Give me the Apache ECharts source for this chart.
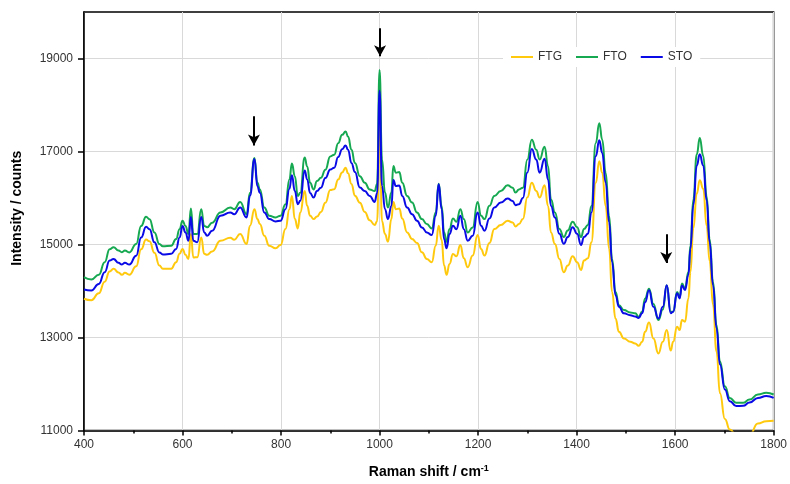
<!DOCTYPE html>
<html>
<head>
<meta charset="utf-8">
<script src="https://cdn.jsdelivr.net/npm/echarts@6/dist/echarts.min.js"></script>
<style>
  html, body { margin: 0; padding: 0; background: #fff; }
  #main { width: 790px; height: 484px; }
</style>
</head>
<body>
<div id="main"></div>
<script>
// Raman shift positions (cm-1) shared by the three spectra
var shift = [400, 415, 430, 442, 452, 460, 470, 477, 483, 492, 506, 516, 526, 533, 543, 553, 560, 577, 587, 594,
  600, 606, 612, 617, 622, 630, 638, 644, 650, 660, 677, 697, 705, 717, 730, 737, 746, 752, 757, 766,
  776, 789, 799, 809, 817, 822, 828, 834, 839, 848, 853, 859, 866, 873, 881, 890, 900, 908, 916, 924,
  931, 936, 943, 950, 960, 970, 980, 990, 995, 1000, 1005, 1011, 1017, 1024, 1028, 1033, 1040, 1046, 1056, 1066,
  1076, 1086, 1096, 1106, 1114, 1120, 1126, 1131, 1136, 1142, 1149, 1156, 1164, 1171, 1179, 1189, 1199, 1206, 1213, 1223,
  1233, 1246, 1260, 1270, 1276, 1283, 1291, 1300, 1309, 1318, 1325, 1335, 1342, 1348, 1356, 1365, 1374, 1382, 1392, 1401,
  1409, 1415, 1423, 1430, 1439, 1446, 1452, 1459, 1466, 1472, 1479, 1486, 1496, 1509, 1519, 1526, 1533, 1539, 1547, 1556,
  1566, 1575, 1583, 1591, 1596, 1604, 1609, 1614, 1620, 1627, 1631, 1637, 1644, 1650, 1657, 1664, 1670, 1677, 1684, 1691,
  1701, 1711, 1724, 1738, 1751, 1768, 1785, 1800];

var ftg = [13833, 13800, 13950, 14200, 14420, 14478, 14400, 14350, 14390, 14350, 14530, 14900, 15105, 15070, 14820, 14550, 14478, 14480, 14620, 14800,
  14905, 14780, 14690, 15225, 14720, 14727, 15153, 14800, 14777, 14850, 15080, 15145, 15104, 15225, 15011, 15403, 15760, 15546, 15439, 15190,
  14975, 14918, 14989, 15332, 15760, 16045, 15546, 15346, 15688, 16152, 15831, 15620, 15546, 15600, 15700, 15900, 16170, 16190, 16400, 16550,
  16650, 16530, 16300, 16050, 15900, 15700, 15520, 15420, 15500, 17700, 15500, 15225, 15061, 15546, 15916, 15760, 15774, 15560, 15260, 15118,
  15032, 14833, 14690, 14619, 14975, 15403, 15100, 14547, 14348, 14583, 14797, 14747, 14989, 14704, 14512, 14761, 15203, 14904, 14761, 15032,
  15332, 15417, 15510, 15474, 15389, 15439, 15550, 16015, 16330, 16152, 16010, 16273, 15830, 15260, 15010, 14690, 14404, 14547, 14747, 14620,
  14454, 14654, 14704, 15046, 16330, 16793, 16543, 15830, 14904, 13977, 13406, 13121, 12978, 12907, 12871, 12822, 12907, 13121, 13320, 12978,
  12658, 12907, 13160, 12720, 12910, 13230, 13160, 13375, 13340, 13840, 14400, 15350, 16100, 16380, 16200, 15400, 14650, 13700, 12700, 11800,
  11250, 11020, 10900, 10800, 10900, 11150, 11200, 11210];

var fto = [14300, 14250, 14350, 14620, 14900, 14940, 14870, 14835, 14870, 14830, 15010, 15400, 15595, 15545, 15260, 15010, 14960, 14975, 15117, 15330,
  15510, 15400, 15225, 15775, 15225, 15225, 15760, 15400, 15370, 15470, 15690, 15795, 15760, 15915, 15653, 16115, 16860, 16327, 16185, 15795,
  15618, 15582, 15620, 15866, 16400, 16742, 16470, 16044, 16115, 16870, 16680, 16327, 16185, 16363, 16434, 16610, 16895, 16930, 17180, 17358,
  17430, 17322, 17037, 16752, 16470, 16327, 16185, 16150, 16300, 18755, 16830, 16116, 15795, 16116, 16686, 16544, 16558, 16330, 16045, 15902,
  15688, 15546, 15439, 15346, 15688, 16308, 15831, 15260, 15061, 15332, 15560, 15489, 15760, 15546, 15260, 15367, 15916, 15617, 15546, 15831,
  16045, 16152, 16273, 16223, 16116, 16185, 16220, 16830, 17255, 17040, 16830, 17100, 16685, 15970, 15690, 15335, 15160, 15300, 15490, 15370,
  15160, 15335, 15420, 15830, 17185, 17610, 17255, 16545, 15620, 14690, 13980, 13695, 13590, 13540, 13520, 13445, 13555, 13840, 14050, 13720,
  13375, 13600, 14125, 13555, 13555, 13980, 13870, 14160, 14055, 14410, 14980, 15975, 16940, 17290, 16910, 16040, 15120, 14195, 13270, 12485,
  11950, 11700, 11595, 11595, 11665, 11775, 11810, 11775];

var sto = [14034, 14013, 14150, 14405, 14655, 14690, 14605, 14570, 14605, 14570, 14760, 15150, 15380, 15330, 15046, 14830, 14785, 14800, 14905, 15150,
  15400, 15260, 15080, 15590, 15080, 15046, 15590, 15260, 15190, 15295, 15620, 15690, 15650, 15796, 15582, 16050, 16840, 16250, 16115, 15690,
  15547, 15497, 15510, 15760, 16200, 16491, 16150, 15866, 15940, 16590, 16400, 16110, 16009, 16150, 16223, 16430, 16612, 16652, 16880, 17050,
  17130, 17037, 16750, 16560, 16224, 16150, 16045, 15916, 16100, 18306, 16259, 15760, 15547, 15830, 16387, 16256, 16270, 16044, 15796, 15653,
  15510, 15367, 15260, 15203, 15617, 16294, 15760, 15118, 14918, 15225, 15403, 15330, 15617, 15330, 15082, 15189, 15688, 15403, 15296, 15560,
  15795, 15902, 15988, 15938, 15845, 15866, 16000, 16550, 17055, 16830, 16545, 16845, 16400, 15830, 15580, 15230, 15015, 15160, 15370, 15230,
  14990, 15160, 15230, 15690, 16900, 17240, 16970, 16330, 15475, 14620, 13910, 13660, 13520, 13480, 13450, 13420, 13520, 13760, 14015, 13660,
  13410, 13660, 14125, 13520, 13555, 13950, 13840, 14120, 14020, 14350, 14900, 15850, 16700, 16940, 16700, 15950, 15050, 14120, 13200, 12420,
  11880, 11630, 11525, 11530, 11600, 11700, 11740, 11700];

var xTicks = [400, 600, 800, 1000, 1200, 1400, 1600, 1800];
var yTicks = [11000, 13000, 15000, 17000, 19000];

// arrows: [shift, from intensity, to intensity]
var arrows = [[745, 17760, 17130], [1001, 19650, 19050], [1582, 15220, 14600]];

function pairs(ys) {
  return shift.map(function (x, i) { return [x, ys[i]]; });
}

function plain(v) { return String(v); }

var chart = echarts.init(document.getElementById('main'), null, { renderer: 'canvas' });

var font = 'Arial, "Liberation Sans", sans-serif';

var option = {
  animation: false,
  backgroundColor: '#fff',
  textStyle: { fontFamily: font },
  grid: {
    left: 84, right: 13, top: 12, bottom: 52,
    show: true, borderColor: '#000', borderWidth: 1.5, backgroundColor: '#fff'
  },
  legend: {
    left: 503, top: 47,
    backgroundColor: '#fff',
    padding: [4, 8],
    itemWidth: 22, itemHeight: 2, itemGap: 14,
    icon: 'rect',
    textStyle: { fontSize: 12, color: '#333', fontFamily: font },
    data: ['FTG', 'FTO', 'STO']
  },
  xAxis: {
    type: 'value',
    min: 400, max: 1800, interval: 200,
    name: 'Raman shift / cm{sup|-1}',
    nameLocation: 'middle',
    nameGap: 34,
    nameTextStyle: {
      fontSize: 14, fontWeight: 'bold', color: '#000', fontFamily: font,
      rich: { sup: { fontSize: 9, fontWeight: 'bold', color: '#000', verticalAlign: 'top', padding: [0, 0, 6, 0] } }
    },
    axisLine: { show: true, lineStyle: { color: '#000', width: 1.5 } },
    axisTick: { show: true, inside: false, length: 5, lineStyle: { color: '#000', width: 1.5 } },
    minorTick: { show: true, splitNumber: 2, length: 3, lineStyle: { color: '#000', width: 1.5 } },
    axisLabel: { margin: 8, fontSize: 12, color: '#333', customValues: xTicks, formatter: plain },
    splitLine: { show: true, lineStyle: { color: '#d9d9d9', width: 1 } }
  },
  yAxis: {
    type: 'value',
    min: 11000, max: 20000, interval: 2000,
    name: 'Intensity / counts',
    nameLocation: 'middle',
    nameGap: 60,
    nameTextStyle: { fontSize: 14, fontWeight: 'bold', color: '#000', fontFamily: font, padding: [0, 0, 0, 26] },
    axisLine: { show: true, lineStyle: { color: '#000', width: 1.5 } },
    axisTick: { show: true, inside: false, length: 6, lineStyle: { color: '#000', width: 1.5 }, customValues: yTicks },
    axisLabel: { margin: 11, fontSize: 12, color: '#333', customValues: yTicks, formatter: plain },
    splitLine: { show: true, lineStyle: { color: '#d9d9d9', width: 1 } }
  },
  series: [
    {
      name: 'FTG', type: 'line', data: pairs(ftg), showSymbol: false, symbol: 'none',
      smooth: 0.5, smoothMonotone: 'x', clip: true,
      lineStyle: { color: '#FFC90E', width: 2 }, itemStyle: { color: '#FFC90E' }
    },
    {
      name: 'FTO', type: 'line', data: pairs(fto), showSymbol: false, symbol: 'none',
      smooth: 0.5, smoothMonotone: 'x', clip: true,
      lineStyle: { color: '#17A852', width: 2 }, itemStyle: { color: '#17A852' }
    },
    {
      name: 'STO', type: 'line', data: pairs(sto), showSymbol: false, symbol: 'none',
      smooth: 0.5, smoothMonotone: 'x', clip: true,
      lineStyle: { color: '#0A0AE6', width: 2 }, itemStyle: { color: '#0A0AE6' },
      markLine: {
        silent: true,
        symbol: ['none', 'arrow'],
        symbolSize: [9, 11],
        label: { show: false },
        lineStyle: { color: '#000', width: 2, type: 'solid' },
        data: arrows.map(function (a) {
          return [{ coord: [a[0], a[1]] }, { coord: [a[0], a[2]] }];
        })
      }
    }
  ]
};

chart.setOption(option);
</script>
</body>
</html>
